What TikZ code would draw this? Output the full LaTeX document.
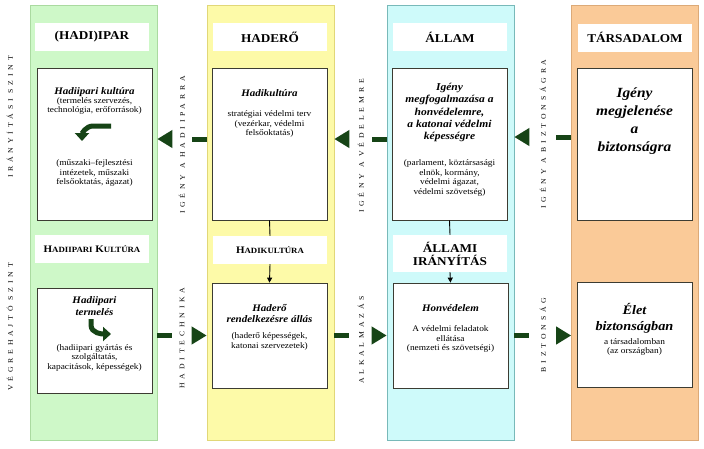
\documentclass[tikz,border=0pt]{standalone}
\usepackage{fontspec}
\setmainfont{Liberation Serif}[FakeStretch=1.1]
\newfontfamily\ritka{Liberation Serif}[LetterSpace=55,FakeStretch=1.1]
\usetikzlibrary{arrows.meta}
\definecolor{zoldsav}{RGB}{206,248,200}
\definecolor{zoldkeret}{RGB}{170,218,160}
\definecolor{sargasav}{RGB}{253,250,168}
\definecolor{sargakeret}{RGB}{225,215,120}
\definecolor{keksav}{RGB}{206,250,250}
\definecolor{kekkeret}{RGB}{120,185,185}
\definecolor{narancssav}{RGB}{250,202,152}
\definecolor{narancskeret}{RGB}{220,170,120}
\definecolor{sotetzold}{RGB}{22,68,22}
\definecolor{keret}{RGB}{60,60,50}
\newcommand\kiskap[2]{#1{\fontsize{8}{9}\selectfont #2}}

\begin{document}
\begin{tikzpicture}[x=1pt,y=1pt,
  sav/.style={draw, line width=0.6pt, minimum width=127pt, minimum height=435pt},
  cim/.style={fill=white, minimum width=114pt, minimum height=28pt, align=center,
    font=\fontsize{12}{13}\selectfont\bfseries},
  doboz/.style={draw=keret, fill=white, line width=0.8pt, minimum width=115pt},
  fej/.style={font=\fontsize{10}{12}\selectfont\bfseries\itshape, align=center},
  szoveg/.style={font=\fontsize{8.5}{9.5}\selectfont, align=center},
  oldal/.style={rotate=90, font=\ritka\fontsize{7}{7}\selectfont},
  igeny/.style={draw=sotetzold, line width=5pt, dash pattern=on 15pt off 40pt,
    -{Triangle[length=15pt,width=17pt]}},
  vonal/.style={draw=black, line width=0.9pt},
  lefele/.style={vonal, -{Triangle[length=5pt,width=5pt]}},
  gorbe/.style={draw=sotetzold, line width=5pt, -{Triangle[length=8pt,width=14pt]}}]
  \useasboundingbox (0,0) rectangle (704,-448);

  % savok
  \node[sav, draw=zoldkeret, fill=zoldsav] (hadiipar) at (93.5,-222.5) {};
  \node[sav, draw=sargakeret, fill=sargasav] (hadero) at (270.5,-222.5) {};
  \node[sav, draw=kekkeret, fill=keksav] (allam) at (450.5,-222.5) {};
  \node[sav, draw=narancskeret, fill=narancssav] (tarsadalom) at (635,-222.5) {};

  % fejlecek
  \node[cim] (hadiiparC) at (92,-37) {(HADI)IPAR};
  \node[cim] (haderoC) at (270,-37) {HADERŐ};
  \node[cim] (allamC) at (450,-37) {ÁLLAM};
  \node[cim] (tarsadalomC) at (635,-37.5) {TÁRSADALOM};

  % iranyitasi szint
  \node[doboz, minimum height=152pt] (hadiiparF) at (94.5,-144) {};
  \node[doboz, minimum height=152pt] (haderoF) at (269.5,-144) {};
  \node[doboz, minimum height=152pt] (allamF) at (449.5,-144) {};
  \node[doboz, minimum height=152pt] (tarsadalomF) at (634.5,-144) {};

  \node[fej] (hadiiparF1) at (94.5,-92) {Hadiipari kultúra};
  \node[szoveg] (hadiiparF2) at (94.5,-106) {(termelés szervezés,\\technológia, erőforrások)};
  \draw[gorbe] (111,-126) -- (93,-126) to[out=180,in=90] (82,-141);
  \node[szoveg] (hadiiparF3) at (94.5,-173) {(műszaki--fejlesztési\\intézetek, műszaki\\felsőoktatás, ágazat)};

  \node[fej] (haderoF1) at (269.5,-93) {Hadikultúra};
  \node[szoveg] (haderoF2) at (269.5,-124) {stratégiai védelmi terv\\(vezérkar, védelmi\\felsőoktatás)};

  \node[fej, font=\fontsize{10.5}{12.3}\selectfont\bfseries\itshape] (allamF1) at (449.5,-112.5)
    {Igény\\megfogalmazása a\\honvédelemre,\\a katonai védelmi\\képességre};
  \node[szoveg] (allamF2) at (449.5,-178) {(parlament, köztársasági\\elnök, kormány,\\védelmi ágazat,\\védelmi szövetség)};

  \node[fej, font=\fontsize{14}{18}\selectfont\bfseries\itshape] (tarsadalomF1) at (634.5,-121)
    {Igény\\megjelenése\\a\\biztonságra};

  % kozepso fejlecek
  \node[cim, font=\fontsize{10}{11}\selectfont\bfseries] (hadiiparK) at (92,-249) {\kiskap{H}{ADIIPARI} \kiskap{K}{ULTÚRA}};
  \node[cim, font=\fontsize{10}{11}\selectfont\bfseries] (haderoK) at (270,-250) {\kiskap{H}{ADIKULTÚRA}};
  \node[cim, minimum height=37pt] (allamK) at (450,-253.5) {ÁLLAMI\\IRÁNYÍTÁS};

  % vegrehajto szint
  \node[doboz, minimum height=105pt] (hadiiparA) at (94.5,-340.5) {};
  \node[doboz, minimum height=105pt] (haderoA) at (269.5,-335.5) {};
  \node[doboz, minimum height=105pt] (allamA) at (450.5,-335.5) {};
  \node[doboz, minimum height=105pt] (tarsadalomA) at (634.5,-334.5) {};

  \node[fej] (hadiiparA1) at (94.5,-306) {Hadiipari\\termelés};
  \draw[gorbe] (91,-319) -- (91,-325) to[out=-90,in=180] (111,-334);
  \node[szoveg] (hadiiparA2) at (94.5,-357.5) {(hadiipari gyártás és\\szolgáltatás,\\kapacitások, képességek)};

  \node[fej, font=\fontsize{10}{11}\selectfont\bfseries\itshape] (haderoA1) at (269.5,-313.5) {Haderő\\rendelkezésre állás};
  \node[szoveg] (haderoA2) at (269.5,-341.5) {(haderő képességek,\\katonai szervezetek)};

  \node[fej] (allamA1) at (450.5,-308) {Honvédelem};
  \node[szoveg] (allamA2) at (450.5,-339) {A védelmi feladatok\\ellátása\\(nemzeti és szövetségi)};

  \node[fej, font=\fontsize{13}{16}\selectfont\bfseries\itshape] (tarsadalomA1) at (634.5,-318.5) {Élet\\biztonságban};
  \node[szoveg] (tarsadalomA2) at (634.5,-347) {a társadalomban\\(az országban)};

  \draw[vonal] (haderoF.south) -- (haderoK.north);
  \draw[lefele] (haderoK.south) -- (haderoA.north);
  \draw[vonal] (allamF.south) -- (allamK.north);
  \draw[lefele] (allamK.south) -- (allamA.north);

  % oldalfeliratok
  \node[oldal] (iranyitasi) at (10,-117) {IRÁNYÍTÁSI SZINT};
  \node[oldal] (vegrehajto) at (10,-327) {VÉGREHAJTÓ SZINT};
  \node[oldal] (igenyH) at (182,-145) {IGÉNY A HADIIPARRA};
  \node[oldal] (haditechnika) at (182,-338) {HADITECHNIKA};
  \node[oldal] (igenyV) at (361,-146) {IGÉNY A VÉDELEMRE};
  \node[oldal] (alkalmazas) at (361,-340) {ALKALMAZÁS};
  \node[oldal] (igenyB) at (543,-134) {IGÉNY A BIZTONSÁGRA};
  \node[oldal] (biztonsag) at (543,-335) {BIZTONSÁG};

  % nyilak
  \draw[igeny] ([yshift=5pt]hadero.west |- haderoF.center) -- ([yshift=5pt]hadiipar.east |- haderoF.center);
  \draw[igeny] ([yshift=5pt]allam.west |- allamF.center) -- ([yshift=5pt]hadero.east |- allamF.center);
  \draw[igeny] ([yshift=7pt]tarsadalom.west |- allamF.center) -- ([yshift=7pt]allam.east |- allamF.center);
  \draw[igeny] (hadiipar.east |- haderoA.center) -- (hadero.west |- haderoA.center);
  \draw[igeny] (hadero.east |- haderoA.center) -- (allam.west |- haderoA.center);
  \draw[igeny] (allam.east |- allamA.center) -- (tarsadalom.west |- allamA.center);
\end{tikzpicture}
\end{document}
